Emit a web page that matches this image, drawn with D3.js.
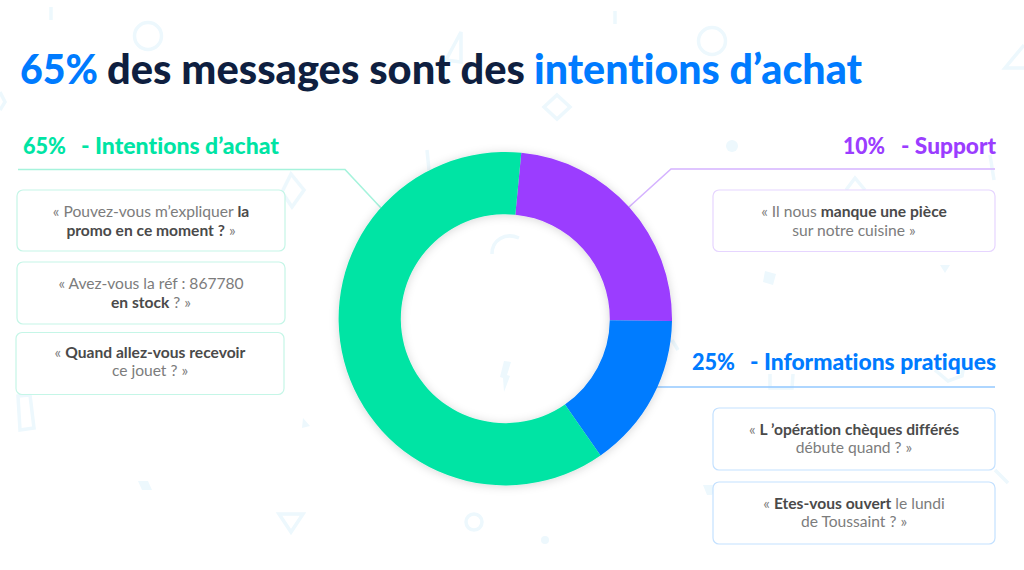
<!DOCTYPE html>
<html><head><meta charset="utf-8">
<script src="https://cdn.jsdelivr.net/npm/d3@7"></script>
<style>html,body{margin:0;padding:0;background:#fff}svg{display:block}text{font-family:Lato,"Noto Sans",sans-serif;font-variant-ligatures:none}</style>
</head><body><svg id="c" width="1024" height="570"></svg>
<script>
// Data: slice sizes as drawn (share of ring), in clockwise order
const categories = ["Support", "Informations pratiques", "Intentions d’achat"];
const arcShares = [23.7, 15.1, 61.2];
const statedPercents = ["10%", "25%", "65%"];
const colors = ["#9b3dff", "#007bff", "#00e4a4"];

const svg = d3.select("#c");
const defs = svg.append("defs");
const f = defs.append("filter").attr("id","sh").attr("x","-20%").attr("y","-20%").attr("width","140%").attr("height","140%");
f.append("feDropShadow").attr("dx",0).attr("dy",1).attr("stdDeviation",5).attr("flood-color","#000").attr("flood-opacity",0.16);

// background decoration
const deco = "#edf8fd";
const dg = svg.append("g").attr("fill","none").attr("stroke",deco).attr("stroke-width",3.5);
[[148,36,13.5],[712,41,13.5],[474,522,8]].forEach(c=>dg.append("circle").attr("cx",c[0]).attr("cy",c[1]).attr("r",c[2]));
["M51 7V20","M615 11V24","M427 150L429 170","M990 155L994 180","M995 470L1008 483","M672 340L678 350",
 "M461 32L446 60L461 62Z","M1024 45L1005 68H1024","M557 95L570 107L557 119L544 107Z","M0 92L5 102L0 110",
 "M291 174L304 190L292 207L282 192Z","M846 190L855 178L865 190","M18 396L30 395L34 428L20 430Z",
 "M279 514H303L291 532Z","M492 254C492 240 505 232 519 238","M770 374V388H792L793 374","M935 370L948 381L962 376L965 360"]
 .forEach(d=>dg.append("path").attr("d",d));
const df = svg.append("g").attr("fill",deco);
[[732,146,6],[545,540,4]].forEach(c=>df.append("circle").attr("cx",c[0]).attr("cy",c[1]).attr("r",c[2]));
["M765 271L776 274L773 285L763 282Z","M940 265H950L945 273Z","M303 418L310 426L302 428Z","M138 481H148L152 490H142Z",
 "M504 361L511 362L507 375L510 376L504 392L503 378L500 377Z","M703 485H718L712 495H707Z"]
 .forEach(d=>df.append("path").attr("d",d));

// donut
const cx=505.3, cy=318.7, R=166.7, r=104.5;
const startA = 5.5*Math.PI/180;
const pie = d3.pie().sort(null).startAngle(startA).endAngle(startA+2*Math.PI)(arcShares);
const arc = d3.arc().innerRadius(r).outerRadius(R);

// leader lines
const lines = svg.append("g").attr("fill","none").attr("stroke-width",1.6);
lines.append("path").attr("d","M18 169.5H345L381 208").attr("stroke","#a6f3dc");
lines.append("path").attr("d","M995 169H671L629 207").attr("stroke","#d5b3ff");
lines.append("path").attr("d","M995 387H655").attr("stroke","#93c8ff");

svg.append("g").attr("transform",`translate(${cx},${cy})`).attr("filter","url(#sh)")
  .selectAll("path").data(pie).join("path").attr("d",arc).attr("fill",(d,i)=>colors[i]);

// title
const navy="#0f1f40";
const titleRuns=[["65%",20,78,"#007bff"],["des messages sont des",107,418,navy],["intentions d’achat",534,328,"#007bff"]];
svg.append("g").selectAll("text").data(titleRuns).join("text")
  .attr("x",d=>d[1]).attr("y",84).attr("textLength",d=>d[2]).attr("lengthAdjust","spacingAndGlyphs")
  .attr("font-size",41).attr("font-weight",900).attr("fill",d=>d[3]).text(d=>d[0]);

// headers
const headers=[[2,23,43,81,198,154],[0,843,42,901,95,154],[1,692,43,750,246,370]];
const hg=svg.append("g").attr("font-size",22.5).attr("font-weight",900);
headers.forEach(h=>{
  hg.append("text").attr("x",h[1]).attr("y",h[5]).attr("textLength",h[2]).attr("lengthAdjust","spacingAndGlyphs").attr("fill",colors[h[0]]).text(statedPercents[h[0]]);
  hg.append("text").attr("x",h[3]).attr("y",h[5]).attr("textLength",h[4]).attr("lengthAdjust","spacingAndGlyphs").attr("fill",colors[h[0]]).text("- "+categories[h[0]]);
});

// quote boxes: [x,y,w,h,stroke, line1 runs, line2 runs, first baseline offset]; run = [text,bold]
const boxes=[
 [17,190,268,61,"#c5f6e7",[["« Pouvez-vous m’expliquer ",0],["la",1]],[["promo en ce moment ?",1],[" »",0]],27.4],
 [17,262,268,62,"#c5f6e7",[["« Avez-vous la réf : 867780",0]],[["en stock",1],[" ? »",0]],27.4],
 [16,332.5,268,62,"#c5f6e7",[["« ",0],["Quand allez-vous recevoir",1]],[["ce jouet ? »",0]],25.2],
 [713,190,282,61.5,"#e6d5ff",[["« Il nous ",0],["manque une pièce",1]],[["sur notre cuisine »",0]],27.4],
 [713,408,282,62,"#c4e1ff",[["« ",0],["L ’opération chèques différés",1]],[["débute quand ? »",0]],27],
 [713,482,282,62,"#c4e1ff",[["« ",0],["Etes-vous ouvert",1],[" le lundi",0]],[["de Toussaint ? »",0]],27]
];
const bg=svg.append("g");
boxes.forEach(b=>{
  bg.append("rect").attr("x",b[0]).attr("y",b[1]).attr("width",b[2]).attr("height",b[3]).attr("rx",6)
    .attr("fill","#fff").attr("fill-opacity",0.85).attr("stroke",b[4]).attr("stroke-width",1.2);
  [b[5],b[6]].forEach((runs,i)=>{
    const t=bg.append("text").attr("x",b[0]+b[2]/2).attr("y",b[1]+b[7]+i*18.3).attr("text-anchor","middle").attr("font-size",15.6);
    runs.forEach(u=>t.append("tspan").attr("font-weight",u[1]?700:400).attr("fill",u[1]?"#4a4a4a":"#7c7c7c").style("white-space","pre").text(u[0]));
  });
});
</script></body></html>
